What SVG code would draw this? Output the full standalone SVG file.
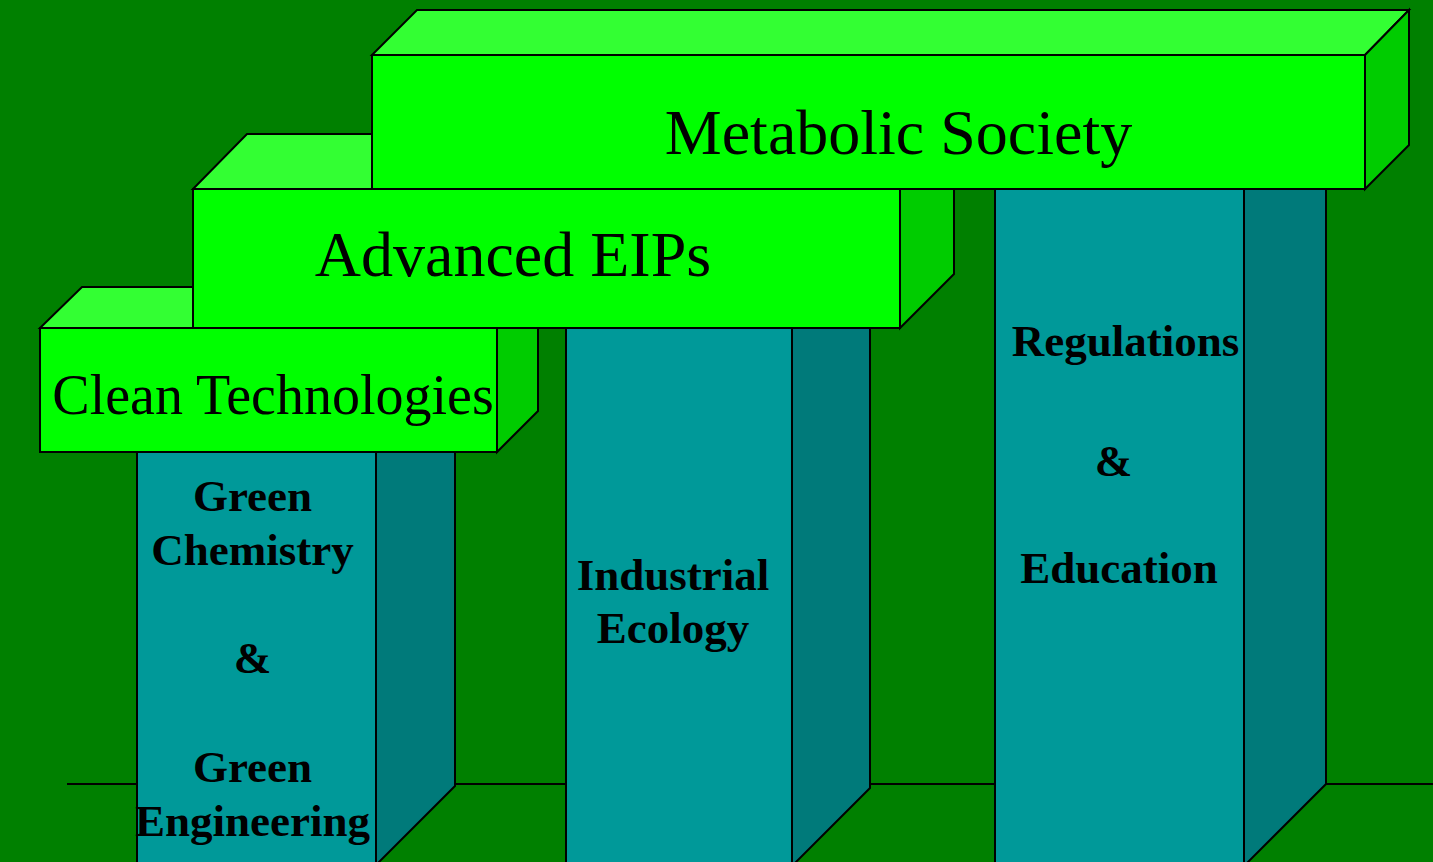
<svg xmlns="http://www.w3.org/2000/svg" width="1433" height="862" viewBox="0 0 1433 862">
  <style>
    .ln { stroke: #000; stroke-width: 2; stroke-linejoin: miter; }
    .front { fill: #00FF00; }
    .top { fill: #33FF33; }
    .side { fill: #00CC00; }
    .pf { fill: #009999; }
    .ps { fill: #007A7A; }
    .big { font-family: "Liberation Serif", "Times New Roman", serif; fill: #000; text-anchor: middle; }
    .lbl { font-family: "Liberation Serif", "Times New Roman", serif; font-weight: bold; font-size: 45px; fill: #000; text-anchor: middle; }
  </style>
  <rect x="0" y="0" width="1433" height="862" fill="#008000"/>

  <g id="floor" class="ln" fill="none">
    <line x1="67" y1="784" x2="137" y2="784"/>
    <line x1="455" y1="784" x2="566" y2="784"/>
    <line x1="870" y1="784" x2="995" y2="784"/>
    <line x1="1326" y1="784" x2="1433" y2="784"/>
  </g>

  <g id="pillar-green-chemistry">
    <rect class="pf ln" x="137" y="440" width="239" height="440"/>
    <polygon class="ps ln" points="376,440 455,440 455,786 376,865"/>
    <text class="lbl" x="252.5" y="511">Green</text>
    <text class="lbl" x="252.5" y="565">Chemistry</text>
    <text class="lbl" x="252.5" y="673">&amp;</text>
    <text class="lbl" x="252.5" y="782">Green</text>
    <text class="lbl" x="252.5" y="836">Engineering</text>
  </g>

  <g id="pillar-industrial-ecology">
    <rect class="pf ln" x="566" y="320" width="226" height="560"/>
    <polygon class="ps ln" points="792,320 870,320 870,788 792,866"/>
    <text class="lbl" x="673" y="590">Industrial</text>
    <text class="lbl" x="673" y="643">Ecology</text>
  </g>

  <g id="pillar-regulations-education">
    <rect class="pf ln" x="995" y="180" width="249" height="700"/>
    <polygon class="ps ln" points="1244,180 1326,180 1326,784 1244,866"/>
    <text class="lbl" x="1125.5" y="356">Regulations</text>
    <text class="lbl" x="1113.5" y="476">&amp;</text>
    <text class="lbl" x="1119" y="583">Education</text>
  </g>

  <g id="box-clean-technologies">
    <polygon class="top ln" points="40,328 82,287 538,287 497,328"/>
    <polygon class="side ln" points="497,328 538,287 538,411 497,452"/>
    <rect class="front ln" x="40" y="328" width="457" height="124"/>
    <text class="big" x="273" y="414" font-size="56">Clean Technologies</text>
  </g>

  <g id="box-advanced-eips">
    <polygon class="top ln" points="193,189 247,134 954,134 900,189"/>
    <polygon class="side ln" points="900,189 954,134 954,274 900,328"/>
    <rect class="front ln" x="193" y="189" width="707" height="139"/>
    <text class="big" x="513" y="276" font-size="64">Advanced EIPs</text>
  </g>

  <g id="box-metabolic-society">
    <polygon class="top ln" points="372,55 417,10 1409,10 1365,55"/>
    <polygon class="side ln" points="1365,55 1409,10 1409,145 1365,189"/>
    <rect class="front ln" x="372" y="55" width="993" height="134"/>
    <text class="big" x="898.5" y="154" font-size="64">Metabolic Society</text>
  </g>
</svg>
